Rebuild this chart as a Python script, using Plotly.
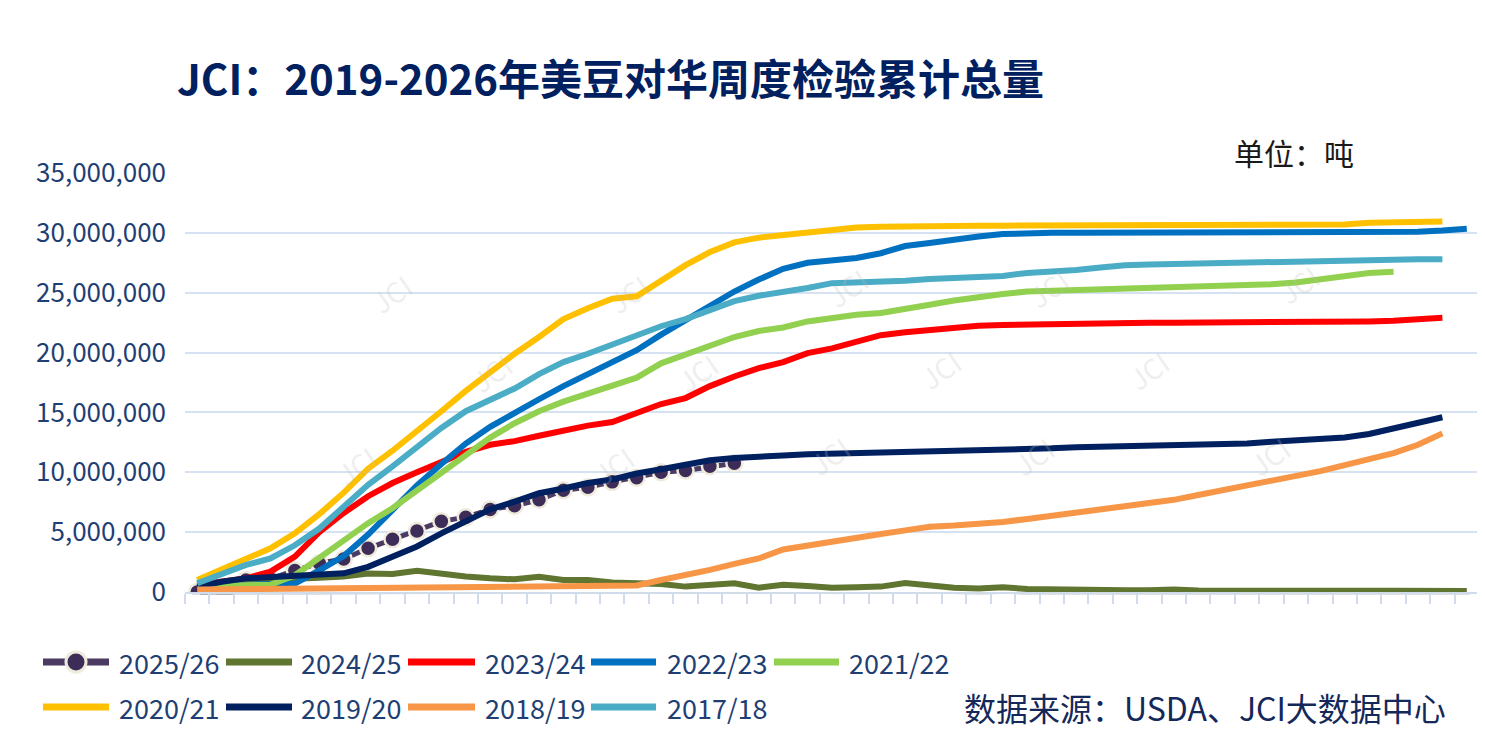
import plotly.graph_objects as go

# the page puts the figure 8px in from the top-left corner
OFF = 8
W, H = 1485 - OFF, 749 - OFF
FONT = "Noto Sans CJK SC"

# plot box in reference pixels
BOX_L, BOX_R, BOX_T, BOX_B = 185, 1479, 173, 592
SH = 3  # shadow offset, px

L = BOX_L - OFF
R = W - (BOX_R - OFF) - SH
T = BOX_T - OFF
B = H - (BOX_B - OFF) - SH
PW = W - L - R
PH = H - T - B

# week index of the marketing year
weeks = list(range(1, 54))

# cumulative inspections, million tonnes
y2025_26 = [0.0, 0.05, 1.0, 1.1, 1.8, 2.4, 2.75, 3.65, 4.4, 5.1, 5.9, 6.25, 6.9,
            7.2, 7.7, 8.5, 8.75, 9.2, 9.55, 10.0, 10.15, 10.5, 10.75]
y2024_25 = [0.4, 0.6, 0.8, 1.0, 1.1, 1.2, 1.3, 1.55, 1.5, 1.78, 1.5, 1.3, 1.14,
            1.06, 1.28, 1.0, 1.0, 0.8, 0.73, 0.67, 0.45, 0.64, 0.73, 0.36, 0.6,
            0.5, 0.35, 0.4, 0.45, 0.75, 0.5, 0.35, 0.3, 0.4, 0.25, 0.2, 0.15,
            0.15, 0.15, 0.15, 0.2, 0.12, 0.1, 0.1, 0.1, 0.1, 0.1, 0.1, 0.1,
            0.1, 0.08, 0.08, 0.08]
y2023_24 = [0.6, 0.86, 1.14, 1.7, 2.95, 5.0, 6.6, 8.0, 9.1, 10.0, 10.9, 11.7, 12.3,
            12.6, 13.05, 13.5, 13.9, 14.2, 14.9, 15.7, 16.2, 17.2, 18.0, 18.7, 19.2,
            19.95, 20.35, 20.9, 21.45, 21.7, 21.9, 22.1, 22.25, 22.3, 22.35, 22.4,
            22.45, 22.5, 22.5, 22.5, 22.5, 22.5, 22.5, 22.5, 22.5, 22.5, 22.5,
            22.55, 22.6, 22.65, 22.75, 22.9]
y2022_23 = [0.5, 0.55, 0.6, 0.6, 0.7, 1.8, 3.0, 4.8, 6.8, 8.9, 10.7, 12.4, 13.8,
            15.0, 16.1, 17.2, 18.2, 19.1, 20.2, 21.5, 22.7, 24.0, 25.1, 26.1, 27.0,
            27.5, 27.75, 27.9, 28.3, 28.9, 29.15, 29.45, 29.7, 29.9, 30.0, 30.0,
            30.0, 30.0, 30.0, 30.0, 30.0, 30.0, 30.0, 30.0, 30.0, 30.0, 30.0, 30.0,
            30.05, 30.05, 30.1, 30.2, 30.35]
y2021_22 = [0.5, 0.5, 0.55, 0.6, 1.4, 2.9, 4.35, 5.75, 7.0, 8.5, 10.0, 11.5, 12.9,
            14.1, 15.1, 15.9, 16.6, 17.3, 17.9, 19.1, 19.8, 20.5, 21.3, 21.8, 22.1,
            22.6, 22.9, 23.15, 23.3, 23.6, 24.0, 24.35, 24.65, 24.9, 25.1, 25.15,
            25.25, 25.3, 25.35, 25.4, 25.4, 25.45, 25.5, 25.6, 25.7, 25.85, 26.1,
            26.4, 26.65, 26.75]
y2020_21 = [1.0, 1.84, 2.7, 3.65, 4.9, 6.5, 8.3, 10.3, 11.8, 13.4, 15.1, 16.8, 18.4,
            19.9, 21.3, 22.8, 23.7, 24.5, 24.7, 26.0, 27.3, 28.4, 29.2, 29.6, 29.8,
            30.1, 30.3, 30.45, 30.5, 30.55, 30.6, 30.6, 30.6, 30.6, 30.6, 30.6,
            30.6, 30.6, 30.6, 30.6, 30.6, 30.6, 30.6, 30.6, 30.6, 30.6, 30.6,
            30.7, 30.85, 30.9, 30.95, 30.95]
y2019_20 = [0.45, 0.86, 1.14, 1.23, 1.34, 1.42, 1.56, 2.1, 3.0, 3.8, 4.9, 5.9, 6.9,
            7.55, 8.25, 8.65, 9.1, 9.4, 9.9, 10.25, 10.6, 11.0, 11.2, 11.25, 11.4,
            11.5, 11.55, 11.6, 11.65, 11.7, 11.7, 11.7, 11.75, 11.8, 11.9, 12.0,
            12.1, 12.15, 12.2, 12.2, 12.2, 12.3, 12.35, 12.4, 12.55, 12.65, 12.8,
            12.9, 13.2, 13.65, 14.2, 14.6]
y2018_19 = [0.2, 0.22, 0.25, 0.25, 0.28, 0.3, 0.3, 0.33, 0.35, 0.36, 0.38, 0.4, 0.42,
            0.43, 0.45, 0.45, 0.47, 0.5, 0.55, 1.0, 1.4, 1.85, 2.35, 2.8, 3.55,
            3.9, 4.25, 4.6, 4.85, 5.15, 5.45, 5.55, 5.65, 5.85, 6.1, 6.35, 6.6,
            6.85, 7.15, 7.4, 7.7, 8.1, 8.5, 8.8, 9.2, 9.6, 10.1, 10.6, 11.1,
            11.6, 12.3, 13.25]
y2017_18 = [0.73, 1.56, 2.26, 2.8, 3.9, 5.3, 7.1, 8.95, 10.5, 12.15, 13.7, 15.1, 16.1,
            17.0, 18.2, 19.2, 19.9, 20.7, 21.5, 22.2, 22.8, 23.6, 24.3, 24.75, 25.05,
            25.4, 25.8, 25.85, 25.95, 26.0, 26.15, 26.2, 26.3, 26.4, 26.65, 26.75,
            26.9, 27.1, 27.3, 27.35, 27.4, 27.45, 27.5, 27.5, 27.6, 27.6, 27.7,
            27.7, 27.75, 27.8, 27.8, 27.8]

names = ["2025/26", "2024/25", "2023/24", "2022/23", "2021/22",
         "2020/21", "2019/20", "2018/19", "2017/18"]
values = [y2025_26, y2024_25, y2023_24, y2022_23, y2021_22,
          y2020_21, y2019_20, y2018_19, y2017_18]
colors = ["#4B3A62", "#5F7530", "#FF0000", "#0070C0", "#92D050",
          "#FFC000", "#002060", "#F79646", "#4BACC6"]

y_ticks = [0, 5e6, 10e6, 15e6, 20e6, 25e6, 30e6, 35e6]
SHADOW = "rgba(60,60,60,0.16)"

fig = go.Figure()

# soft drop shadows on the shifted subplot (drawn first, below)
for name, vals in zip(names, values):
    n = len(vals)
    tonnes = [v * 1e6 for v in vals]
    mode = "lines+markers" if name == "2025/26" else "lines"
    fig.add_trace(go.Scatter(
        x=weeks[:n], y=tonnes, mode=mode, xaxis="x", yaxis="y",
        line=dict(color=SHADOW, width=7), marker=dict(size=17, color=SHADOW),
        hoverinfo="skip", showlegend=False))

for name, vals, color in zip(names, values, colors):
    n = len(vals)
    tonnes = [v * 1e6 for v in vals]
    if name == "2025/26":
        fig.add_trace(go.Scatter(
            x=weeks[:n], y=tonnes, name=name, mode="lines+markers",
            xaxis="x2", yaxis="y2",
            line=dict(color=color, width=5),
            marker=dict(size=16, color="#3E2C58",
                        line=dict(color="#EEEBDC", width=2.5)),
            showlegend=False))
    else:
        fig.add_trace(go.Scatter(
            x=weeks[:n], y=tonnes, name=name, mode="lines",
            xaxis="x2", yaxis="y2",
            line=dict(color=color, width=6),
            showlegend=False))


def px(x):
    return (x - OFF - L) / PW


def py(y):
    return (H - B - (y - OFF)) / PH


# hand-made legend, two rows like the original
legend_pos = [
    (43, 109, 117, 662), (226, 292, 299, 662), (408, 475, 483, 662),
    (591, 656, 665, 662), (774, 839, 847, 662),
    (43, 109, 117, 707), (226, 292, 299, 707), (408, 475, 483, 707),
    (591, 656, 665, 707),
]
shapes = []
annotations = []
for (x0, x1, tx, yy), name, color in zip(legend_pos, names, colors):
    shapes.append(dict(type="line", xref="paper", yref="paper",
                       x0=px(x0), x1=px(x1), y0=py(yy), y1=py(yy),
                       line=dict(color=color, width=7)))
    if name == "2025/26":
        shapes.append(dict(type="circle", xref="paper", yref="paper",
                           xsizemode="pixel", ysizemode="pixel",
                           xanchor=px((x0 + x1) / 2), yanchor=py(yy),
                           x0=-10, x1=10, y0=-10, y1=10,
                           fillcolor="#3E2C58",
                           line=dict(color="#EEEBDC", width=3)))
    annotations.append(dict(xref="paper", yref="paper", x=px(tx), y=py(yy),
                            xanchor="left", yanchor="middle", showarrow=False,
                            text=name,
                            font=dict(family=FONT, size=27, color="#1F3F74")))

# faint JCI watermarks
for wx, wy in [(360, 263), (597, 263), (847, 257), (1080, 257), (1330, 253),
               (460, 373), (697, 373), (940, 370), (1180, 370),
               (325, 497), (582, 497), (829, 487), (1065, 487), (1301, 487)]:
    annotations.append(dict(xref="paper", yref="paper", x=px(wx), y=py(wy),
                            showarrow=False, text="JCI", textangle=-35,
                            font=dict(family=FONT, size=28,
                                      color="rgba(190,190,190,0.25)")))

annotations.append(dict(xref="paper", yref="paper", x=px(175), y=py(76),
                        xanchor="left", yanchor="middle", showarrow=False,
                        text="<b>JCI：2019-2026年美豆对华周度检验累计总量</b>",
                        font=dict(family=FONT, size=42, color="#002060")))
annotations.append(dict(xref="paper", yref="paper", x=px(1232), y=py(152),
                        xanchor="left", yanchor="middle", showarrow=False,
                        text="单位：吨",
                        font=dict(family=FONT, size=30, color="#1A1A1A")))
annotations.append(dict(xref="paper", yref="paper", x=px(962), y=py(707),
                        xanchor="left", yanchor="middle", showarrow=False,
                        text="数据来源：USDA、JCI大数据中心",
                        font=dict(family=FONT, size=32, color="#14285A")))

dx = SH / PW
dy = SH / PH
common_x = dict(range=[0.5, 53.5], showgrid=False, zeroline=False)
common_y = dict(range=[0, 35e6], zeroline=False)

fig.update_layout(
    width=W, height=H,
    margin=dict(l=L, r=R, t=T, b=B, autoexpand=False),
    paper_bgcolor="white", plot_bgcolor="white",
    shapes=shapes, annotations=annotations,
    font=dict(family=FONT),
    xaxis=dict(domain=[dx, 1], visible=False, **common_x),
    yaxis=dict(domain=[0, 1 - dy], visible=False, **common_y),
    xaxis2=dict(
        domain=[0, 1 - dx], anchor="y2",
        tickvals=[w - 0.5 for w in weeks] + [53.5],
        showticklabels=False, ticks="outside", ticklen=10, tickwidth=2,
        tickcolor="#D0DCEC", showline=True, linecolor="#D0DCEC", linewidth=2,
        **common_x),
    yaxis2=dict(
        domain=[dy, 1], anchor="x2",
        tickvals=y_ticks, tickformat=",d",
        showgrid=True, gridcolor="#D6E2F2", gridwidth=2,
        tickfont=dict(family=FONT, size=26, color="#1F3F74"),
        ticklabelstandoff=18,
        **common_y),
)

fig.write_html("out.html")
